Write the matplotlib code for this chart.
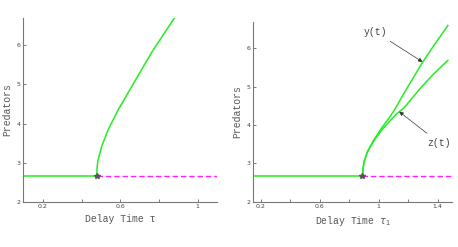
import numpy as np
import matplotlib
matplotlib.use('Agg')
import matplotlib.pyplot as plt

# equilibrium level and Hopf points
eq_level = 2.66
hopf_left = 0.478
hopf_right = 0.89

# left panel: bifurcating branch
tau_left = [0.478, 0.48, 0.4835, 0.504, 0.538, 0.590, 0.676, 0.762, 0.882]
pred_left = [2.66, 2.86, 3.03, 3.42, 3.85, 4.36, 5.09, 5.82, 6.72]

# right panel: y(t) and z(t) branches
tau_y = [0.89, 0.895, 0.901, 0.924, 0.967, 1.02, 1.07, 1.108, 1.18, 1.293, 1.377, 1.47]
pred_y = [2.66, 2.87, 3.04, 3.30, 3.61, 3.92, 4.18, 4.40, 4.88, 5.61, 6.09, 6.6]
tau_z = [0.89, 0.895, 0.901, 0.924, 0.971, 1.028, 1.086, 1.13, 1.170, 1.283, 1.372, 1.47]
pred_z = [2.66, 2.87, 3.04, 3.30, 3.61, 3.90, 4.15, 4.32, 4.44, 4.96, 5.33, 5.69]

green = '#22ee22'
magenta = '#ff22ff'
mono = 'Liberation Mono'

fig = plt.figure(figsize=(4.58, 2.47), dpi=100)
ax1 = fig.add_axes([0.0513, 0.1834, 0.4227, 0.7436])
ax2 = fig.add_axes([0.553, 0.1834, 0.4346, 0.7288])


def style(ax, xlim, xticks, xlabels, xlab):
    ax.set_xlim(*xlim)
    ax.set_ylim(2, 6.7)
    ax.set_xticks(xticks)
    ax.set_xticklabels(xlabels, fontsize=4.5, color='#444444')
    ax.set_yticks([2, 3, 4, 5, 6])
    ax.set_yticklabels(['2', '3', '4', '5', '6'], fontsize=4.5, color='#444444')
    ax.tick_params(direction='in', length=2, width=0.6, color='#666666', pad=2)
    for s in ['top', 'right']:
        ax.spines[s].set_visible(False)
    for s in ['left', 'bottom']:
        ax.spines[s].set_color('#777777')
        ax.spines[s].set_linewidth(0.8)
    ax.set_xlabel(xlab, fontsize=7, family=mono, color='#555555', labelpad=3)
    ax.set_ylabel('Predators', fontsize=7, family=mono, color='#555555', labelpad=3)


# left
ax1.plot([0.1, hopf_left], [eq_level, eq_level], color=green, lw=1.1)
ax1.plot([hopf_left, 1.1], [eq_level, eq_level], color=magenta, lw=1.0, ls=(0, (4, 2)))
ax1.plot(tau_left, pred_left, color=green, lw=1.1)
ax1.plot([hopf_left], [eq_level], marker='*', color='#555555', ms=4)
style(ax1, (0.1, 1.1), [0.2, 0.4, 0.6, 0.8, 1.0], ['0.2', '', '0.6', '', '1'],
      'Delay Time τ')

# right
ax2.plot([0.15, hopf_right], [eq_level, eq_level], color=green, lw=1.1)
ax2.plot([hopf_right, 1.5], [eq_level, eq_level], color=magenta, lw=1.0, ls=(0, (4, 2)))
ax2.plot(tau_y, pred_y, color=green, lw=1.1)
ax2.plot(tau_z, pred_z, color=green, lw=1.1)
ax2.plot([hopf_right], [eq_level], marker='*', color='#555555', ms=4)
style(ax2, (0.15, 1.5), [0.2, 0.4, 0.6, 0.8, 1.0, 1.2, 1.4],
      ['0.2', '', '0.6', '', '1', '', '1.4'], 'Delay Time $\\tau_1$')

ax2.annotate('y(t)', xy=(1.298, 5.65), xytext=(0.9, 6.43), fontsize=7, family=mono,
             color='#444444', ha='left', va='center',
             arrowprops=dict(arrowstyle='-|>', color='#333333', lw=0.5,
                             mutation_scale=6, shrinkA=2, shrinkB=0))
ax2.annotate('z(t)', xy=(1.14, 4.35), xytext=(1.33, 3.54), fontsize=7, family=mono,
             color='#444444', ha='left', va='center',
             arrowprops=dict(arrowstyle='-|>', color='#333333', lw=0.5,
                             mutation_scale=6, shrinkA=2, shrinkB=0))

fig.savefig('out.png', dpi=100)
